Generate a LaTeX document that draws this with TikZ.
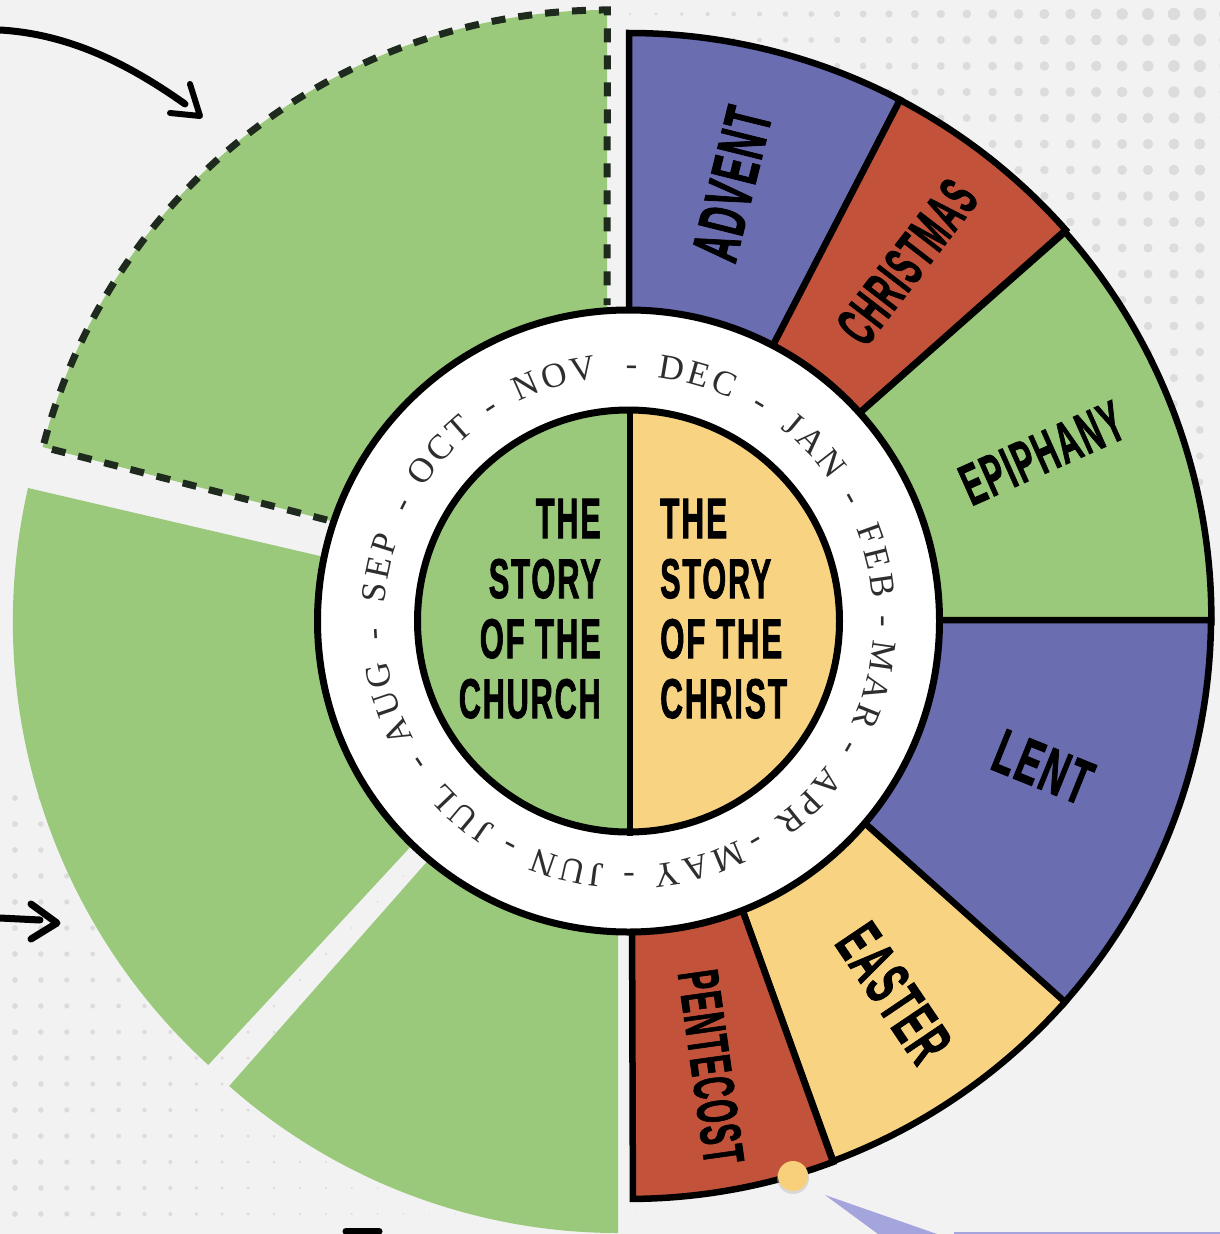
\documentclass[tikz,border=0pt]{standalone}
\usepackage{fontspec}
\usepackage{graphicx}
\usetikzlibrary{decorations.text}
\newfontfamily\labfont[UprightFont=* Bold,FakeBold=2,LetterSpace=6]{Liberation Sans}
\newfontfamily\ringfont{Liberation Serif}
\definecolor{bgc}{HTML}{F2F2F3}
\definecolor{grn}{HTML}{9BC97B}
\definecolor{blu}{HTML}{6A6DAF}
\definecolor{redc}{HTML}{C2533A}
\definecolor{yel}{HTML}{F8D482}
\definecolor{dotc}{HTML}{DCDCDC}
\definecolor{lav}{HTML}{A5A5DD}
\definecolor{ringtxt}{HTML}{2E2E2E}
\definecolor{dashc}{HTML}{1F2A1E}
\tikzset{
  x=1pt,y=1pt,
  wedge/.style={draw=black,line width=6.5pt,line join=miter},
  seglab/.style={inner sep=0pt,text=black},
  hand/.style={draw=black,line width=7pt,line cap=round,line join=round},
}
\newcommand{\fit}[3]{\resizebox{#1pt}{#2pt}{\labfont #3}}
\newcommand{\ringword}[2]{%
  \path[decorate,decoration={text effects along path,text={#1},text align=center,
    text effects/.cd,text along path,characters={font=\ringfont\fontsize{35}{35}\selectfont,text=ringtxt},
    character widths={font=\ringfont\fontsize{35}{35}\selectfont,inner xsep=1.8pt}}]
    (90-#2+24:245) arc[start angle=90-#2+24,end angle=90-#2-24,radius=245];}
\begin{document}
\begin{tikzpicture}
\useasboundingbox (0,0) rectangle (1220,-1234);
\fill[bgc] (0,0) rectangle (1220,-1234);
% halftone dots, top right
\begin{scope}
\clip (0,0) rectangle (1220,-1234);
\foreach \i in {0,...,23}{\foreach \j in {0,...,18}{
  \pgfmathsetmacro{\dx}{630+25.9*\i-0.0}
  \pgfmathsetmacro{\dy}{14+26*\j}
  \pgfmathsetmacro{\dr}{(1.4+5*(\dx-630)/570)*(1-0.45*(\dy-14)/470)}
  \fill[dotc] (\dx,-\dy) circle[radius=\dr];
}}
% halftone dots, bottom left
\foreach \i in {0,...,24}{\foreach \j in {0,...,16}{
  \pgfmathsetmacro{\dx}{15+25.9*\i}
  \pgfmathsetmacro{\dy}{798+26*\j+0}
  \pgfmathsetmacro{\dr}{max(0.6,3-2.2*\dx/400)}
  \fill[dotc] (\dx,-\dy) circle[radius=\dr];
}}
\end{scope}
% left green wedges
\fill[grn] (618,-645) -- ++(228.6:588) arc[start angle=228.6,end angle=270,radius=588] -- cycle;
\fill[grn] (616,-625) -- (28,-488) arc[start angle=167.1,end angle=227.6,radius=600] -- cycle;
\fill[grn] (607,-592) -- (607,-10) arc[start angle=90,end angle=165.5,radius=583] -- cycle;
\draw[dashc,line width=7pt,dash pattern=on 14pt off 13pt] (327,-520) -- (43,-447) arc[start angle=165.5,end angle=90,radius=583] -- (607,-305);
% right wedges
\coordinate (i0) at (629,-400);
\coordinate (i1) at (737,-415);
\coordinate (i2) at (803,-463);
\coordinate (i3) at (860,-620);
\coordinate (i4) at (812,-776);
\coordinate (i5) at (719,-845);
\coordinate (i6) at (632,-900);
\def\R{583}
\draw[wedge,fill=blu] (i0) -- (629,-33) arc[start angle=90,end angle=62.3,radius=\R] -- (i1) -- cycle;
\draw[wedge,fill=redc] (i1) -- (900,-100) arc[start angle=62.3,end angle=41.5,radius=\R] -- (i2) -- cycle;
\draw[wedge,fill=grn] (i2) -- (1065,-232) arc[start angle=41.5,end angle=-0.4,radius=\R] -- (i3) -- cycle;
\draw[wedge,fill=blu] (i3) -- (1211,-620) arc[start angle=-0.4,end angle=-41.6,radius=\R] -- (i4) -- cycle;
\draw[wedge,fill=yel] (i4) -- (1065,-1002) arc[start angle=-41.6,end angle=-69.5,radius=\R] -- (i5) -- cycle;
\draw[wedge,fill=redc] (i5) -- (833,-1162) arc[start angle=-69.5,end angle=-89.6,radius=\R] -- (i6) -- cycle;
% rings
\node[circle,draw=black,fill=white,line width=7pt,minimum size=622pt,inner sep=0pt] (ring) at (628.5,-621) {};
\fill[grn] (629.5,-410) arc[start angle=90,end angle=270,radius=211] -- cycle;
\fill[yel] (629.5,-410) arc[start angle=90,end angle=-90,radius=211] -- cycle;
\node[circle,draw=black,line width=7pt,minimum size=422pt,inner sep=0pt] (core) at (628.5,-621) {};
\draw[black,line width=6pt] (core.north -| 630,0) -- (core.south -| 630,0);
% month ring
\begin{scope}[shift={(629,-621)}]
\ringword{DEC}{15.6}
\ringword{JAN}{46.6}
\ringword{FEB}{76.3}
\ringword{MAR}{104.5}
\ringword{APR}{135}
\ringword{MAY}{164}
\ringword{JUN}{194}
\ringword{JUL}{221}
\ringword{AUG}{251}
\ringword{SEP}{282}
\ringword{OCT}{312}
\ringword{NOV}{343}
\ringword{-}{0.6}
\ringword{-}{31}
\ringword{-}{61}
\ringword{-}{90}
\ringword{-}{120}
\ringword{-}{150}
\ringword{-}{180}
\ringword{-}{208}
\ringword{-}{236}
\ringword{-}{267}
\ringword{-}{297}
\ringword{-}{327}
\end{scope}
% centre text
\node[seglab,anchor=base east] (c1) at (601,-538) {\fit{65}{39}{THE}};
\node[seglab,anchor=base east] (c2) at (601,-598) {\fit{112}{39}{STORY}};
\node[seglab,anchor=base east] (c3) at (601,-658) {\fit{121}{39}{OF THE}};
\node[seglab,anchor=base east] (c4) at (601,-718) {\fit{142}{39}{CHURCH}};
\node[seglab,anchor=base west] (r1) at (660,-538) {\fit{67}{39}{THE}};
\node[seglab,anchor=base west] (r2) at (660,-598) {\fit{111}{39}{STORY}};
\node[seglab,anchor=base west] (r3) at (660,-658) {\fit{122}{39}{OF THE}};
\node[seglab,anchor=base west] (r4) at (660,-718) {\fit{127}{39}{CHRIST}};
% segment labels
\node[seglab,rotate=76] (advent) at (732,-184) {\fit{155}{45}{ADVENT}};
\node[seglab,rotate=52.4] (christmas) at (907,-262) {\fit{188}{40}{CHRISTMAS}};
\node[seglab,rotate=24] (epiphany) at (1042,-453) {\fit{172}{40}{EPIPHANY}};
\node[seglab,rotate=-22] (lent) at (1043,-767) {\fit{100}{43}{LENT}};
\node[seglab,rotate=-56] (easter) at (894,-993) {\fit{150}{45}{EASTER}};
\node[seglab,rotate=-82] (pentecost) at (711,-1067) {\fit{195}{40}{PENTECOST}};
% hand-drawn arrows
\coordinate (a1s) at (0,-30);
\coordinate (a1t) at (185,-104);
\coordinate (a1h) at (200,-116);
\draw[hand] (a1s) .. controls (70,-34) and (130,-65) .. (a1t);
\draw[hand,line width=6pt] (170,-113) -- (a1h) -- (190,-84);
\coordinate (a2s) at (0,-918);
\coordinate (a2t) at (40,-920);
\coordinate (a2h) at (57,-923);
\draw[hand] (a2s) -- (a2t);
\draw[hand,line width=7pt] (31,-904) -- (a2h) -- (31,-939);
\draw[black,line width=7pt,line cap=round] (346,-1231) -- (379,-1231);
% dot marker and callout
\fill[black!25,opacity=.5] (793,-1178) circle[radius=16];
\fill[yel!95!orange] (793,-1176) circle[radius=15];
\fill[lav] (825,-1195) -- (937,-1234) -- (878,-1234) -- cycle;
\fill[lav] (954,-1232) rectangle (1220,-1234);
\end{tikzpicture}
\end{document}
